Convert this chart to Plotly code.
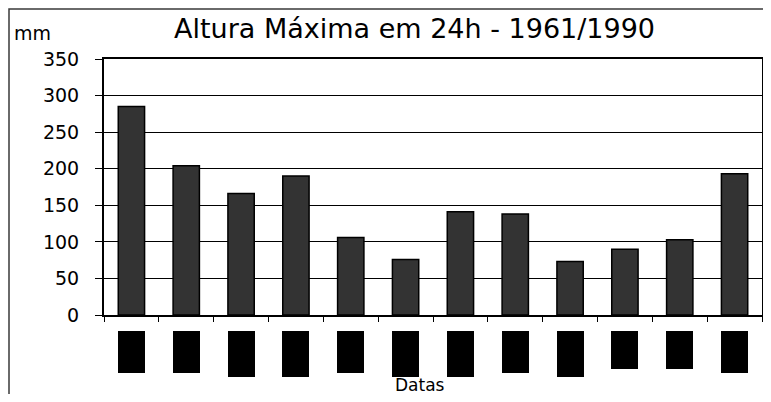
import plotly.graph_objects as go

# ---- data ----
categories = ["Jan", "Fev", "Mar", "Abr", "Mai", "Jun",
              "Jul", "Ago", "Set", "Out", "Nov", "Dez"]
values_mm = [285, 204, 166, 190, 106, 76, 141, 138, 73, 90, 103, 193]
y_ticks = [0, 50, 100, 150, 200, 250, 300, 350]
title_text = "Altura Máxima em 24h - 1961/1990"
y_unit = "mm"
x_title = "Datas"

# style: heights (px) of the blacked-out date labels under each bar
label_box_h = [42, 42, 46, 46, 42, 46, 46, 42, 46, 38, 38, 42]

OFF = 8  # page body margin offset
# keep page from overflowing (no scrollbars): figure must fit inside body
W, H = 771 - 2 * OFF, 402 - 2 * OFF
PLOT_L, PLOT_R, PLOT_T, PLOT_B = 104, 762, 59, 315
ML = PLOT_L - OFF
MT = PLOT_T - OFF
MR = (W + OFF) - PLOT_R
MB = (H + OFF) - PLOT_B
PW, PH = W - ML - MR, H - MT - MB
FONT = "DejaVu Sans"


def py(y_pix):
    """convert a target-window pixel row into paper y"""
    return (PLOT_B - y_pix) / PH


def px(x_pix):
    return (x_pix - PLOT_L) / PW


fig = go.Figure()
fig.add_trace(go.Bar(
    x=categories, y=values_mm,
    marker=dict(color="#333333", line=dict(color="black", width=1.5)),
    hoverinfo="x+y",
))

annotations = []
# blacked-out date labels
for cat, h in zip(categories, label_box_h):
    annotations.append(dict(
        x=cat, xref="x", y=py(331), yref="paper",
        xanchor="center", yanchor="top",
        text=cat, showarrow=False,
        font=dict(family=FONT, size=8, color="black"),
        bgcolor="black", width=27, height=h,
        borderpad=0, borderwidth=0,
    ))
# title
annotations.append(dict(
    x=px(414), xref="paper", y=py(28), yref="paper",
    xanchor="center", yanchor="middle",
    text=title_text, showarrow=False,
    font=dict(family=FONT, size=27, color="black"),
))
# unit label
annotations.append(dict(
    x=px(12), xref="paper", y=py(33), yref="paper",
    xanchor="left", yanchor="middle",
    text=y_unit, showarrow=False,
    font=dict(family=FONT, size=19, color="black"),
))
# x axis title
annotations.append(dict(
    x=px(420), xref="paper", y=py(385), yref="paper",
    xanchor="center", yanchor="middle",
    text=x_title, showarrow=False,
    font=dict(family=FONT, size=17, color="black"),
))

fig.update_layout(
    width=W, height=H,
    margin=dict(l=ML, r=MR, t=MT, b=MB, pad=0, autoexpand=False),
    paper_bgcolor="white", plot_bgcolor="white",
    bargap=0.52,
    showlegend=False,
    annotations=annotations,
    shapes=[dict(
        type="rect", xref="paper", yref="paper",
        x0=px(9), x1=1.5, y0=-1.0, y1=py(9),
        line=dict(color="#3a3a3a", width=1.5), fillcolor="rgba(0,0,0,0)",
        layer="below",
    )],
)
fig.update_xaxes(
    showticklabels=False,
    showline=True, linecolor="black", linewidth=2, mirror=True,
    ticks="outside", tickson="boundaries", ticklen=5, tickcolor="black", tickwidth=1,
    showgrid=False,
)
fig.update_yaxes(
    range=[0, 350], tickvals=y_ticks,
    showline=True, linecolor="black", linewidth=2, mirror=True,
    ticks="outside", ticklen=7, tickcolor="black", tickwidth=1,
    showgrid=True, gridcolor="black", gridwidth=1,
    zeroline=False,
    tickfont=dict(family=FONT, size=19, color="black"),
    ticklabelstandoff=12,
)

fig.write_html("out.html")
